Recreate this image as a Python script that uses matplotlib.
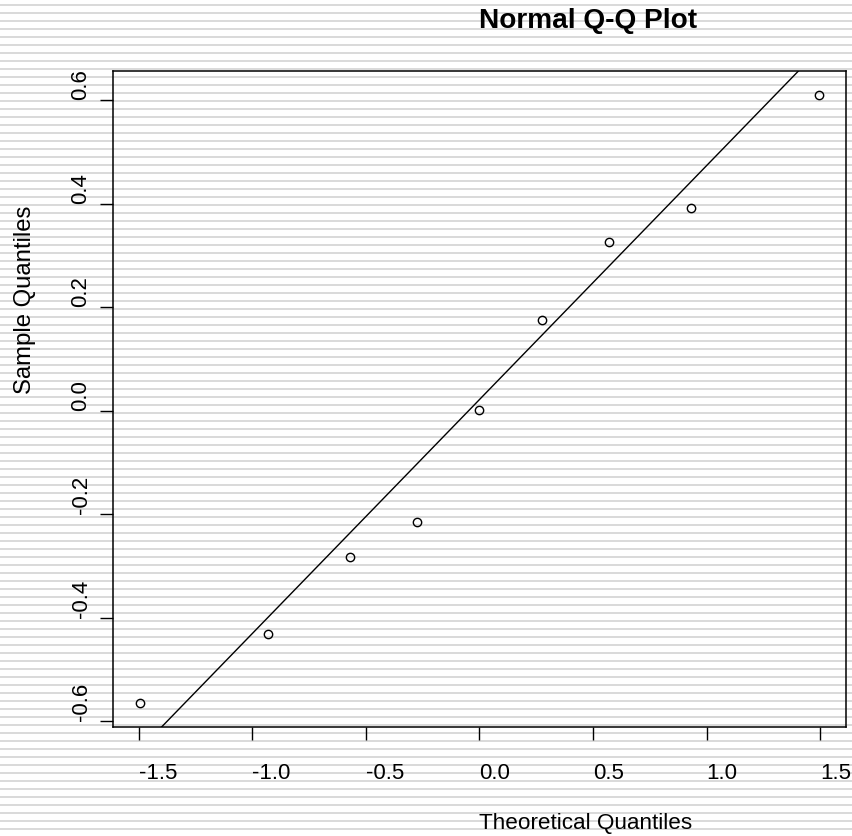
import matplotlib
matplotlib.use("Agg")
import matplotlib.pyplot as plt
import numpy as np
from statistics import NormalDist

plt.rcParams['font.family'] = ['Liberation Sans', 'DejaVu Sans']

# theoretische Quantile (qqnorm, n = 9) und Stichprobenquantile
theo = [-1.494, -0.932, -0.572, -0.274, 0.0, 0.274, 0.572, 0.932, 1.494]
sample = [-0.564, -0.431, -0.283, -0.214, 0.002, 0.176, 0.327, 0.393, 0.610]

xticks = [-1.5, -1.0, -0.5, 0.0, 0.5, 1.0, 1.5]
xticklabels = ["-1.5", "-1.0", "-0.5", "0.0", "0.5", "1.0", "1.5"]
yticks = [-0.6, -0.4, -0.2, 0.0, 0.2, 0.4, 0.6]
yticklabels = ["-0.6", "-0.4", "-0.2", "0.0", "0.2", "0.4", "0.6"]

W, H = 853, 836
fig = plt.figure(figsize=(W / 100, H / 100), dpi=100)

# Hintergrund mit grauen Streifen
bg = fig.add_axes([0, 0, 1, 1], zorder=-1)
bg.set_xlim(0, W)
bg.set_ylim(H, 0)
bg.axis('off')
bg.hlines(np.arange(5, H, 8), 0, W, color='#dadada', lw=1.44)

ax = fig.add_axes([113 / W, (H - 727) / H, 733 / W, 656 / H])
ax.set_facecolor('none')
ax.plot(theo, sample, 'o', mfc='none', mec='black', ms=6, mew=1.0)
ax.margins(0.04)

# qqline durch die Quartile
q1, q3 = np.quantile(sample, [0.25, 0.75])
z = NormalDist().inv_cdf(0.75)
slope = (q3 - q1) / (2 * z)
icpt = q1 + slope * z
ax.axline((0, icpt), slope=slope, color='black', lw=1.0)

for s in ax.spines.values():
    s.set_linewidth(1.1)

ax.set_xticks(xticks)
ax.set_xticklabels(xticklabels, fontsize=16, ha='left')
ax.set_yticks(yticks)
ax.set_yticklabels(yticklabels, fontsize=16, rotation=90, va='bottom')
ax.tick_params(axis='both', direction='out', length=9.4, width=1.0)
ax.tick_params(axis='x', pad=16.5)
ax.tick_params(axis='y', pad=6)

fig.text(479.5 / W, (H - 28.3) / H, "Normal Q-Q Plot", fontsize=20.2,
         fontweight='bold', ha='left', va='baseline')
fig.text(479.5 / W, 6.7 / H, "Theoretical Quantiles", fontsize=16.2,
         ha='left', va='baseline')
fig.text(14 / W, (H - 394) / H, "Sample Quantiles", fontsize=17.2,
         rotation=90, ha='left', va='bottom')

fig.savefig("out.png", dpi=100)
